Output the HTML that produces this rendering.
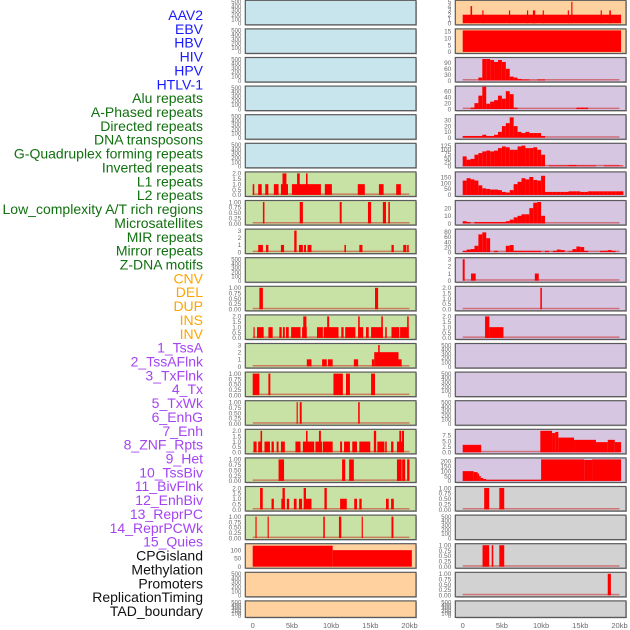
<!DOCTYPE html>
<html><head><meta charset="utf-8"><style>
html,body{margin:0;padding:0;background:#fff;}
svg{display:block;font-family:"Liberation Sans",sans-serif;}
</style></head><body>
<svg id="chart" width="630" height="630" viewBox="0 0 630 630" xmlns="http://www.w3.org/2000/svg">
<g id="labels"></g>
<g id="panels"></g>
<g id="xaxes"></g>
</svg>
<script>
// ---- labels ----
const labelNames = ["AAV2","EBV","HBV","HIV","HPV","HTLV-1","Alu repeats","A-Phased repeats","Directed repeats","DNA transposons","G-Quadruplex forming repeats","Inverted repeats","L1 repeats","L2 repeats","Low_complexity A/T rich regions","Microsatellites","MIR repeats","Mirror repeats","Z-DNA motifs","CNV","DEL","DUP","INS","INV","1_TssA","2_TssAFlnk","3_TxFlnk","4_Tx","5_TxWk","6_EnhG","7_Enh","8_ZNF_Rpts","9_Het","10_TssBiv","11_BivFlnk","12_EnhBiv","13_ReprPC","14_ReprPCWk","15_Quies","CPGisland","Methylation","Promoters","ReplicationTiming","TAD_boundary"];
const labelGroups = [6,13,5,15,5];
const groupColors = ["#1a1aff","#11700f","#ffa500","#a444f2","#111111"];

// ---- x axis ----
const xTickVals = [0,5,10,15,20];
const xTickLabels = ["0","5kb","10kb","15kb","20kb"];

// ---- y ticks ----
const ticksEmpty = ["0","100","200","300","400","500"];
const ticksEmptyVals = [0,100,200,300,400,500];
const ticks1 = [0,0.25,0.5,0.75,1];
const ticks1Labels = ["0.00","0.25","0.50","0.75","1.00"];
const ticks2 = [0,0.5,1,1.5,2];
const ticks2Labels = ["0.0","0.5","1.0","1.5","2.0"];
const ticks3 = [0,1,2,3];

// ---- left column data: [startKb, endKb, value] ----
const l1Segs = [[0,0.2,1],[0.7,1.15,1],[1.6,2.0,1],[2.7,3.3,1],[3.6,4.5,1],[3.8,4.3,2],[5.0,8.7,1],[5.66,6.0,2],[6.8,7.0,2],[9.2,10.1,1],[13.4,14.3,1],[16.1,16.7,1],[18.3,18.9,1]];
const l2Segs = [[1.3,1.5,1],[6.0,6.4,1],[11.1,11.35,1],[14.7,15.1,1],[16.6,17.0,1],[17.3,17.5,1]];
const lowCxSegs = [[0.7,1.3,1],[1.7,2.0,1],[3.6,4.0,1],[5.3,5.6,3],[5.9,6.4,1],[6.55,6.8,1],[7.0,7.5,1],[11.7,11.9,1],[13.6,14.0,1],[17.7,18.0,1],[19.2,19.6,1],[19.7,19.9,1]];
const mirSegs = [[0.85,1.3,1],[15.6,16.0,1]];
const mirrorSegs = [[0.1,0.25,1],[0.55,1.4,1],[2.0,2.55,1],[3.4,3.7,1],[3.85,4.1,1],[4.25,4.6,1],[4.9,6.1,1],[6.3,6.9,1],[6.45,6.85,2],[8.2,8.95,1],[9.05,10.95,1],[9.5,9.75,2],[11.3,11.6,1],[11.8,13.1,1],[13.45,14.1,1],[13.45,13.65,2],[14.45,14.8,1],[15.1,16.6,1],[16.4,16.6,2],[16.9,17.1,1],[17.7,18.7,1],[18.8,19.9,1],[19.7,19.9,2]];
const dupSegs = [[6.9,7.5,1],[8.85,9.45,1],[9.6,10.2,1],[12.9,13.45,1],[15.2,15.5,1],[15.5,18.6,2],[16.0,16.2,3],[18.6,19.0,1]];
const tssASegs = [[0,0.85,1],[2.0,2.25,1],[10.3,11.5,1],[11.9,12.4,1],[15.1,15.6,1]];
const tssAFlnkSegs = [[5.6,5.75,1],[6.0,6.25,1],[13.45,13.65,1]];
const txSegs = [[0.1,0.5,1],[0.7,1.1,1],[1.0,1.2,2],[1.5,2.2,1],[2.4,2.7,1],[3.05,3.3,1],[3.6,4.1,1],[5.45,6.1,1],[6.4,7.85,1],[6.8,7.0,2],[8.0,8.85,1],[8.45,8.7,2],[8.95,10.2,1],[11.15,11.4,1],[11.65,12.4,1],[12.7,13.3,1],[13.6,15.0,1],[15.45,15.75,2],[15.9,16.8,1],[16.9,17.1,1],[17.65,17.95,1],[18.4,19.3,1],[18.7,18.95,2],[19.05,19.3,2]];
const txWkSegs = [[3.3,4.0,1],[11.4,11.8,1],[12.3,12.9,1],[18.4,19.0,1],[19.06,19.45,1],[19.7,20.0,1]];
const enhGSegs = [[0.94,1.28,2],[2.4,2.7,1],[3.65,4.1,1],[3.8,4.1,2],[4.35,4.65,1],[5.25,5.6,1],[5.9,6.3,1],[6.5,6.8,2],[6.65,7.5,1],[9.15,9.45,2],[11.15,12.0,1],[12.95,13.3,1],[13.6,13.9,1],[17.0,17.35,1],[17.65,18.0,1]];
const enhSegs = [[0.35,0.5,1],[1.9,2.05,1],[9.0,9.2,1],[11.0,11.3,1],[13.9,14.05,1],[17.7,17.95,1]];
const cpgSegs = [[0,10.2,127],[10.2,20.3,100]];

// ---- right column data ----
const aav2Segs = [[0,20.2,2],[1.0,1.2,4],[2.5,2.65,3],[5.9,6.05,3],[8.2,8.35,3],[8.95,9.25,3],[10.2,10.35,3],[13.4,13.55,3],[13.85,14.0,5],[17.6,17.75,3],[18.7,18.9,3]];
const ebvSegs = [[0,20.2,15.5]];
// 0.5kb bins starting at 0kb
const hivBins = [0,0,0,0,15,110,110,105,95,105,95,60,20,15,8,5,5,1,1,5,5];
const hpvBins = [0,0,5,20,45,75,18,25,30,45,35,60,50,5,0,0,0,0,0,0,0,0,0,0,0,0,0,0,0,5,5,5];
const dirRepBins = [3,3,3,3,3,5,3,3,5,10,20,25,35,20,10,8,10,8,8,8,3];
const gquadBins = [60,40,45,70,80,90,95,90,95,110,120,115,100,100,120,125,110,110,115,100,70,0,5,5,5,5,5,8,8,5,5,5,5,5,0,0,5,5,5,5,5];
const invBins = [120,140,130,120,80,55,50,45,45,40,25,20,40,90,110,140,130,150,125,120,160,25,25,25,25,25,25,30,30,30,25,25,30,30,30,30,30,30,30,30,30];
const l1RBins = [3,2,0,2,2,2,2,2,2,2,2,3,5,8,10,12,12,20,27,28,10];
const l2RBins = [5,10,12,25,70,78,55,0,5,0,0,25,28,5,5,5,5,5,5,5,0,5,0,5,10,8,0,3,12,22,20,5,0,0,0,5,5,8,5,0];
const lowRSegs = [[0,0.25,3],[1.06,1.66,1],[9.2,9.7,1]];
const microRSegs = [[9.9,10.1,2]];
const mirRSegs = [[2.85,3.4,2],[3.4,5.2,1]];
const enh7Segs = [[0,2.36,3.3],[9.9,11.4,9.5],[11.4,11.8,8.5],[11.8,12.2,9],[12.2,14.2,6.5],[14.2,17.0,5.5],[17.0,18.5,4.5],[18.5,19.4,5.5],[19.4,20.2,4.5]];
const znfSegs = [[0,1.4,100],[1.4,1.9,90],[1.9,2.1,75],[2.1,2.3,50],[2.3,2.6,30],[2.6,3.0,20],[3.0,10,10],[10,15.5,220],[15.5,16.5,215],[16.5,20.2,220]];
const hetSegs = [[2.74,3.38,1],[4.67,5.3,1]];
const bivFlnkSegs = [[2.53,3.38,1],[3.7,3.9,1],[4.67,5.3,1]];
const enhBivSegs = [[18.5,18.9,1]];

// ---- layout helpers ----
const LX0 = 245.3, PW = 170.7, RX0 = 455.3;
function rowTop(i){ return 0.3 + i*28.6; }
function rowH(i){ return i===21 ? 16.5 : 24.5; }
function xScale(col, kb){ return (col==='L' ? 252.7 : 462.7) + kb*7.84; }
function yScale(i, v, ymax){ const t=rowTop(i), h=rowH(i); return t+1.5+(1-v/ymax)*(h-3); }

const bgL = ["#c8e4ec","#c8e4ec","#c8e4ec","#c8e4ec","#c8e4ec","#c8e4ec","#c8e2a5","#c8e2a5","#c8e2a5","#c8e2a5","#c8e2a5","#c8e2a5","#c8e2a5","#c8e2a5","#c8e2a5","#c8e2a5","#c8e2a5","#c8e2a5","#c8e2a5","#ffd19f","#ffd19f","#ffd19f"];
const bgR = ["#ffd19f","#ffd19f","#d6c6e2","#d6c6e2","#d6c6e2","#d6c6e2","#d6c6e2","#d6c6e2","#d6c6e2","#d6c6e2","#d6c6e2","#d6c6e2","#d6c6e2","#d6c6e2","#d6c6e2","#d6c6e2","#d6c6e2","#d2d2d2","#d2d2d2","#d2d2d2","#d2d2d2","#d2d2d2"];

function E(){ return {ymax:500, tv:ticksEmptyVals, tl:ticksEmpty, empty:true}; }
const T1 = {ymax:1, tv:ticks1, tl:ticks1Labels};
const T2 = {ymax:2, tv:ticks2, tl:ticks2Labels};
const T3 = {ymax:3, tv:ticks3, tl:["0","1","2","3"]};
function P(base, extra){ return Object.assign({}, base, extra); }

const leftPanels = [E(),E(),E(),E(),E(),E(),
  P(T2,{segs:l1Segs}), P(T1,{segs:l2Segs}), P(T3,{segs:lowCxSegs}), E(),
  P(T1,{segs:mirSegs}), P(T2,{segs:mirrorSegs}), P(T3,{segs:dupSegs}), P(T1,{segs:tssASegs}),
  P(T1,{segs:tssAFlnkSegs}), P(T2,{segs:txSegs}), P(T1,{segs:txWkSegs}), P(T2,{segs:enhGSegs}),
  P(T1,{segs:enhSegs}), {ymax:130, tv:[0,50,100], tl:["0","50","100"], segs:cpgSegs, noBase:true}, E(), E()];
const rightPanels = [
  {ymax:5, tv:[0,1,2,3,4,5], tl:["0","1","2","3","4","5"], segs:aav2Segs, noBase:true},
  {ymax:15.5, tv:[0,5,10,15], tl:["0","5","10","15"], segs:ebvSegs, noBase:true},
  {ymax:110, tv:[0,30,60,90], tl:["0","30","60","90"], bins:hivBins},
  {ymax:72, tv:[0,20,40,60], tl:["0","20","40","60"], bins:hpvBins},
  {ymax:37, tv:[0,10,20,30], tl:["0","10","20","30"], bins:dirRepBins},
  {ymax:130, tv:[0,25,50,75,100,125], tl:["0","25","50","75","100","125"], bins:gquadBins},
  {ymax:180, tv:[0,50,100,150], tl:["0","50","100","150"], bins:invBins},
  {ymax:28, tv:[0,10,20], tl:["0","10","20"], bins:l1RBins},
  {ymax:85, tv:[0,20,40,60,80], tl:["0","20","40","60","80"], bins:l2RBins},
  P(T3,{segs:lowRSegs}), P(T2,{segs:microRSegs}), P(T2,{segs:mirRSegs}),
  E(),E(),E(),
  {ymax:9.5, tv:[0,2.5,5,7.5], tl:["0.0","2.5","5.0","7.5"], segs:enh7Segs},
  {ymax:220, tv:[0,50,100,150,200], tl:["0","50","100","150","200"], segs:znfSegs},
  P(T1,{segs:hetSegs}), E(), P(T1,{segs:bivFlnkSegs}), P(T1,{segs:enhBivSegs}), E()];

const NS = "http://www.w3.org/2000/svg";
function mk(tag, attrs, parent){ const el=document.createElementNS(NS,tag); for(const k in attrs) el.setAttribute(k,attrs[k]); parent.appendChild(el); return el; }

// labels
const lg = document.getElementById('labels');
let k = 0;
labelGroups.forEach((n,gi)=>{
  for(let j=0;j<n;j++){
    const t = mk('text',{x:203, y:(15+k*13.86+5).toFixed(1), 'text-anchor':'end', 'font-size':'14', fill:groupColors[gi]}, lg);
    t.textContent = labelNames[k];
    
    
    k++;
  }
});

// panels
const pg = document.getElementById('panels');
function drawPanel(col, i, p){
  const x0 = col==='L' ? LX0 : RX0;
  const t = rowTop(i), h = rowH(i);
  const g = mk('g',{}, pg);
  
  
  mk('rect',{x:x0+1, y:t+1, width:PW, height:h, fill:'#b8b8b8'}, g);
  mk('rect',{x:x0, y:t, width:PW, height:h, fill:(col==='L'?bgL:bgR)[i], stroke:'#5a5a5a', 'stroke-width':1.2}, g);
  // ticks
  p.tv.forEach((v,ti)=>{
    const tx = mk('text',{x:x0-4, y:(yScale(i,v,p.ymax)+2.3).toFixed(1), 'text-anchor':'end', 'font-size': p.empty ? '6' : '6.5', fill:'#6a6a6a'}, g);
    tx.textContent = p.tl[ti];
    
    
  });
  if(p.empty) return;
  const y0 = yScale(i,0,p.ymax);
  if(!p.noBase){
    const bl = mk('rect',{x:xScale(col,0), y:y0-1.5, width:xScale(col,20)-xScale(col,0), height:1.5, fill:'rgba(200,40,40,0.55)'}, g);
    
    
  }
  const bars = [];
  if(p.segs) p.segs.forEach(s=>bars.push(s));
  if(p.bins) p.bins.forEach((v,bi)=>{ if(v>0) bars.push([bi*0.5,bi*0.5+0.5,v]); });
  bars.forEach(s=>{
    const xa = xScale(col,s[0]), xb = xScale(col,s[1]);
    const yt = yScale(i,s[2],p.ymax);
    const r = mk('rect',{x:xa.toFixed(2), y:yt.toFixed(2), width:Math.max(0.9,xb-xa).toFixed(2), height:(y0-yt).toFixed(2), fill:'#ff0000'}, g);
    
    
  });
}
leftPanels.forEach((p,i)=>drawPanel('L',i,p));
rightPanels.forEach((p,i)=>drawPanel('R',i,p));

// x axes
const xg = document.getElementById('xaxes');
['L','R'].forEach(col=>{
  xTickVals.forEach((v,ti)=>{
    const t = mk('text',{x:xScale(col,v).toFixed(1), y:628, 'text-anchor':'middle', 'font-size':'7.5', fill:'#6a6a6a'}, xg);
    t.textContent = xTickLabels[ti];
    
    
  });
});
</script>
</body></html>
